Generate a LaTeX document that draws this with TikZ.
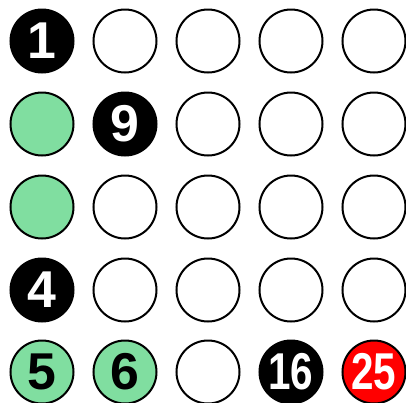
\documentclass[tikz,border=0pt]{standalone}
\usepackage{fontspec}
\setmainfont{Liberation Sans}
\definecolor{cgreen}{RGB}{128,222,160}
\definecolor{cred}{RGB}{255,0,0}
\begin{document}
\begin{tikzpicture}[x=1bp,y=-1bp,
  cell/.style={circle,draw=black,line width=2bp,minimum size=63bp,inner sep=0pt,fill=white,
    font=\fontsize{52}{52}\selectfont\bfseries},
  blk/.style={cell,fill=black,text=white},
  grn/.style={cell,fill=cgreen,text=black},
  rd/.style={cell,fill=cred,text=white}]
\useasboundingbox (0,0) rectangle (406,403);
% row 1
\node[blk] (c11) at (42,41) {1};
\node[cell] (c12) at (125,41) {};
\node[cell] (c13) at (208,41) {};
\node[cell] (c14) at (291,41) {};
\node[cell] (c15) at (374,41) {};
% row 2
\node[grn] (c21) at (42,124) {};
\node[blk] (c22) at (125,124) {9};
\node[cell] (c23) at (208,124) {};
\node[cell] (c24) at (291,124) {};
\node[cell] (c25) at (374,124) {};
% row 3
\node[grn] (c31) at (42,207) {};
\node[cell] (c32) at (125,207) {};
\node[cell] (c33) at (208,207) {};
\node[cell] (c34) at (291,207) {};
\node[cell] (c35) at (374,207) {};
% row 4
\node[blk] (c41) at (42,290) {4};
\node[cell] (c42) at (125,290) {};
\node[cell] (c43) at (208,290) {};
\node[cell] (c44) at (291,290) {};
\node[cell] (c45) at (374,290) {};
% row 5
\node[grn] (c51) at (42,372) {5};
\node[grn] (c52) at (125,372) {6};
\node[cell] (c53) at (208,372) {};
\node[blk] (c54) at (291,372) {\scalebox{0.78}[1]{16}};
\node[rd] (c55) at (374,372) {\scalebox{0.78}[1]{25}};
\end{tikzpicture}
\end{document}
